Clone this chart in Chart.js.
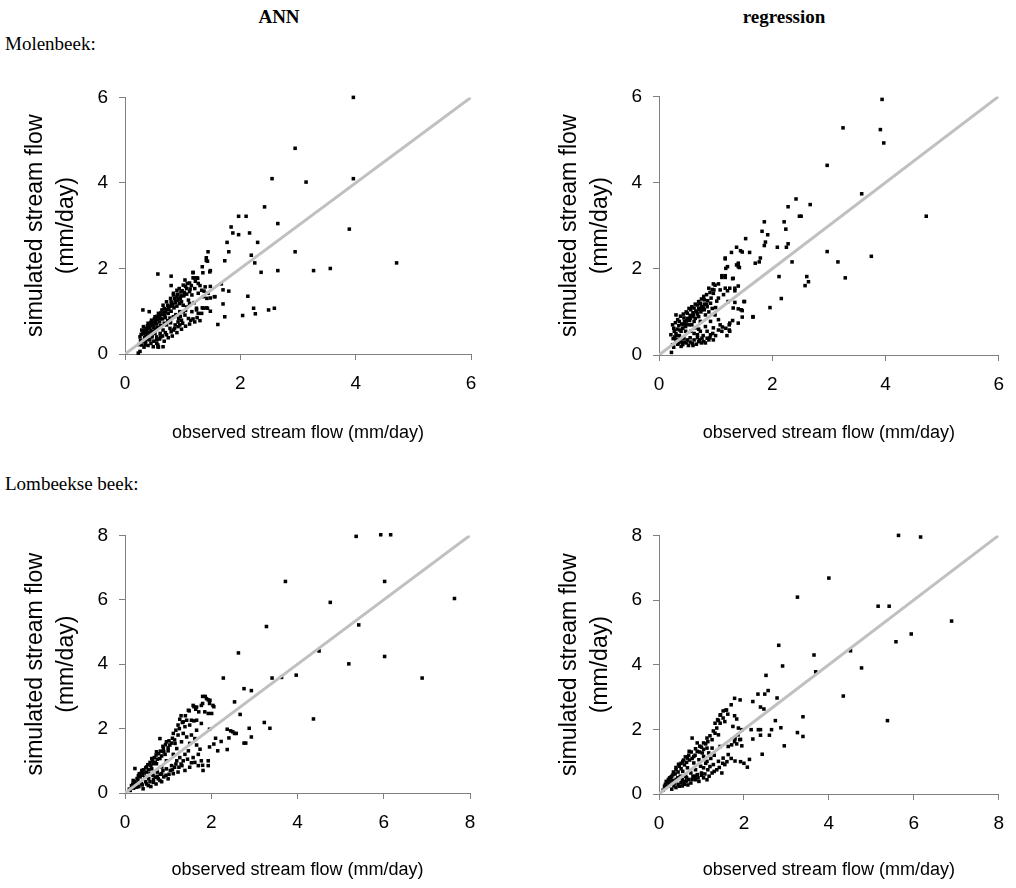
<!DOCTYPE html>
<html>
<head>
<meta charset="utf-8">
<script src="https://cdn.jsdelivr.net/npm/chart.js@4/dist/chart.umd.min.js"></script>
<style>
  body { margin: 0; background: #fff; width: 1016px; height: 888px; position: relative; overflow: hidden; }
  canvas { position: absolute; }
  .lbl { position: absolute; font-family: "Liberation Serif", "Times New Roman", serif; font-size: 19px; color: #000; white-space: nowrap; line-height: 22px; }
</style>
</head>
<body>
<div class="lbl" style="left:229px;top:6px;width:100px;text-align:center;font-weight:bold">ANN</div>
<div class="lbl" style="left:734px;top:6px;width:100px;text-align:center;font-weight:bold">regression</div>
<div class="lbl" style="left:5px;top:33px">Molenbeek:</div>
<div class="lbl" style="left:5px;top:473px">Lombeekse beek:</div>

<canvas id="molAnn" width="500" height="380" style="left:0;top:75px"></canvas>
<canvas id="molReg" width="482" height="380" style="left:534px;top:74px"></canvas>
<canvas id="lomAnn" width="500" height="375" style="left:0;top:513px"></canvas>
<canvas id="lomReg" width="482" height="375" style="left:534px;top:513px"></canvas>

<script>
// axis ticks
var molenbeekTicks = [0, 2, 4, 6];
var lombeekTicks = [0, 2, 4, 6, 8];

// [observed, simulated] in mm/day
var molenbeekANN = [
  [3.96,6.0],[2.95,4.81],[2.55,4.10],[3.14,4.02],[3.96,4.10],[2.42,3.44],[1.97,3.22],[2.10,3.22],[1.84,2.97],[1.87,2.83],
  [1.97,2.79],[2.16,2.83],[1.77,2.61],[2.30,2.61],[2.65,3.05],[3.89,2.92],[2.95,2.39],[1.80,2.39],[2.19,2.31],[2.25,2.13],
  [1.44,2.39],[1.41,2.25],[1.41,2.19],[1.73,2.18],[2.36,1.91],[2.65,1.95],[3.27,1.95],[3.56,2.00],[4.71,2.13],[2.13,1.35],
  [2.23,1.07],[2.26,0.94],[2.49,1.03],[2.59,1.07],[2.04,0.90],[1.73,0.87],[1.61,0.69],[1.70,1.17],[1.80,1.47],[1.70,1.50],
  [1.67,1.64],[1.55,1.34],[1.48,1.00],[1.41,1.08],[1.34,1.08],[1.48,1.31],[1.48,1.58],[1.37,1.47],[1.34,2.04],[1.48,1.95],
  [1.18,1.91],[1.25,1.78],[1.18,1.78],[0.57,1.87],[0.80,1.82],[0.80,1.60],[0.31,1.03],[0.42,0.99],[0.66,0.17],[0.57,0.17],
  [0.57,0.21],[0.84,1.42],[0.94,1.53],[0.97,1.45],[1.04,1.73],[1.08,1.65],[1.18,1.90],[1.26,1.77],[1.27,1.65],[1.35,1.90],
  [1.43,2.17],[1.47,1.92],[1.39,1.57],[1.44,1.42],[1.36,1.34],[1.42,1.30],[1.56,1.34],[1.43,1.07],[1.36,1.07],[1.24,1.07],
  [1.24,1.03],[1.16,0.99],[1.10,0.83],[1.14,0.79],[1.01,0.99],[0.98,0.79],[0.95,0.68],[0.87,0.68],[0.79,0.73],[0.72,0.68],
  [0.84,0.56],[0.66,0.56],[0.61,0.48],[0.55,0.40],[0.55,0.25],[0.58,0.16],[0.49,0.17],[0.36,0.29],[0.33,0.16],[0.26,0.06],
  [0.23,0.02],[0.29,0.21],[0.43,0.33],[0.46,0.44],[0.38,0.56],[0.29,0.56],[0.26,0.40],[0.32,0.64],[0.40,0.72],[0.46,0.79],
  [0.52,0.87],[0.58,0.95],[0.64,1.03],[0.66,1.14],[0.72,1.22],[0.79,1.30],[0.81,1.18],[0.75,1.10],[0.61,0.83],[0.69,0.91],
  [0.49,0.68],[0.43,0.60],[0.90,1.34],[0.92,1.26],[0.98,1.22],[1.01,1.14],[1.07,1.10],[1.10,1.26],[1.16,1.38],[1.21,1.53],
  [1.07,1.53],[1.01,1.61],[0.90,1.49],[0.84,1.38],[0.95,0.99],[1.04,0.91],[0.93,0.83],[0.84,0.87],[1.27,0.95],[1.33,0.95],
  [1.27,1.42],[1.33,1.49],[1.21,0.75],[0.35,0.45],[0.40,0.50],[0.45,0.55],[0.50,0.62],[0.55,0.70],[0.60,0.75],[0.65,0.82],
  [0.70,0.85],[0.75,0.95],[0.80,1.00],[0.85,1.08],[0.90,1.12],[0.95,1.18],[0.30,0.30],[0.34,0.38],[0.38,0.42],[0.42,0.48],
  [0.48,0.52],[0.52,0.58],[0.56,0.62],[0.62,0.66],[0.68,0.72],[0.74,0.78],[0.78,0.84],[0.88,0.92],[0.24,0.22],[0.27,0.32],
  [0.31,0.48],[0.36,0.52],[0.44,0.66],[0.50,0.74],[0.56,0.80],[0.60,0.90],[0.70,0.98],[0.76,1.04],[0.82,1.12],[0.88,1.20],
  [0.96,1.30],[1.02,1.36],[1.12,1.46],[1.15,1.60],[1.22,1.70],[1.30,1.60],[1.12,1.18],[1.20,1.20],[1.05,1.02],[0.96,0.88],
  [0.62,0.40],[0.70,0.50],[0.78,0.60],[0.92,0.75],[1.00,0.72],[0.68,0.30],[0.50,0.30],[0.45,0.25],[0.40,0.20],
  [0.33,0.50],[0.37,0.60],[0.41,0.64],[0.47,0.70],[0.53,0.76],[0.57,0.85],[0.63,0.92],[0.67,0.98],[0.73,1.04],[0.77,1.12],
  [0.83,1.16],[0.87,1.24],[0.93,1.30],[0.97,1.36],[1.03,1.44],[1.07,1.40],[1.13,1.52],[0.28,0.46],[0.34,0.56],[0.39,0.66],
  [0.45,0.74],[0.51,0.82],[0.55,0.88],[0.62,0.96],[0.68,1.06],[0.74,1.14],[0.80,1.22],[0.86,1.30],[0.91,1.40],[0.99,1.48],
  [1.05,1.58],[1.12,1.66],[1.20,1.78],[0.60,0.35],[0.65,0.42],[0.72,0.45],[0.80,0.52],[0.86,0.60],[0.92,0.64],[0.98,0.58],
  [1.05,0.65],[1.12,0.70],[1.18,0.82],[1.25,0.85],[1.30,0.78],[0.75,0.38],[0.82,0.42],[0.90,0.50],[0.55,0.33],[0.47,0.40],
  [0.52,0.48],[0.40,0.35],[0.35,0.22]
];

var molenbeekReg = [
  [3.94,5.93],[3.25,5.27],[3.91,5.23],[3.97,4.92],[2.97,4.40],[3.58,3.74],[4.72,3.22],[2.42,3.62],[2.67,3.49],[2.28,3.44],
  [2.48,3.22],[2.51,3.22],[2.21,3.09],[2.24,2.92],[1.86,3.09],[1.82,2.87],[1.92,2.79],[1.88,2.62],[2.28,2.58],[2.25,2.50],
  [2.09,2.50],[1.86,2.54],[1.53,2.70],[1.37,2.50],[1.44,2.42],[1.28,2.38],[1.60,2.38],[1.47,2.39],[1.17,2.25],[1.79,2.25],
  [1.77,2.16],[1.70,2.13],[1.40,2.13],[1.40,2.05],[1.21,2.05],[2.35,2.16],[2.97,2.40],[3.16,2.16],[3.75,2.29],[3.29,1.79],
  [2.61,1.82],[2.64,1.70],[2.58,1.61],[2.12,1.82],[2.16,1.31],[1.96,1.10],[1.66,0.88],[1.50,1.24],[1.47,1.03],[1.47,0.88],
  [1.40,1.07],[1.30,0.80],[1.24,0.58],[1.24,0.70],[1.11,1.80],[1.17,1.80],[1.30,1.77],[1.40,1.60],[1.34,1.49],[1.21,1.49],
  [1.05,1.65],[0.96,1.65],[0.30,0.93],[0.24,0.70],[0.21,0.47],[0.24,0.24],[0.22,0.06],[0.33,0.35],[0.39,0.55],[0.36,0.78],
  [0.44,0.86],[0.50,0.97],[0.56,1.05],[0.62,1.09],[0.68,1.16],[0.73,1.20],[0.79,1.36],[0.76,1.05],[0.85,1.12],[0.91,1.20],
  [0.96,1.43],[0.99,1.62],[0.97,1.51],[1.05,1.32],[1.08,1.51],[1.14,1.40],[1.17,1.55],[1.25,1.55],[1.34,1.55],[1.31,1.78],
  [1.11,1.84],[1.17,1.84],[1.18,2.01],[1.17,2.23],[1.37,2.09],[1.42,2.03],[1.22,1.24],[1.31,1.09],[1.34,1.22],[1.45,1.05],
  [1.66,0.89],[1.51,1.24],[1.40,0.74],[1.25,0.74],[1.25,0.55],[1.11,0.55],[1.08,0.70],[1.05,0.82],[0.99,0.93],[0.91,0.78],
  [0.96,0.63],[0.91,0.47],[0.85,0.39],[0.79,0.31],[0.76,0.39],[0.70,0.31],[0.62,0.35],[0.59,0.27],[0.50,0.35],[0.44,0.39],
  [0.42,0.24],[0.47,0.55],[0.56,0.55],[0.65,0.63],[0.68,0.47],[0.73,0.55],[0.82,0.66],[0.85,0.55],[0.96,0.35],[0.62,0.78],
  [0.53,0.70],[0.47,0.66],[0.59,0.89],[0.70,0.89],[0.73,0.78],[0.82,0.93],[0.27,0.55],[0.30,0.35],[0.39,0.20],[0.88,1.55],
  [0.28,0.42],[0.32,0.60],[0.35,0.68],[0.40,0.72],[0.45,0.78],[0.50,0.85],[0.55,0.92],[0.60,0.98],[0.65,1.02],[0.70,1.08],
  [0.75,1.12],[0.80,1.18],[0.86,1.26],[0.92,1.32],[0.30,0.50],[0.36,0.45],[0.42,0.62],[0.48,0.72],[0.54,0.80],[0.58,0.70],
  [0.64,0.85],[0.68,0.95],[0.74,1.00],[0.80,1.05],[0.88,1.00],[0.94,1.08],[1.00,1.10],[1.02,1.25],[0.40,0.30],[0.48,0.28],
  [0.55,0.40],[0.62,0.50],[0.70,0.60],[0.78,0.45],[0.88,0.35],[0.75,0.28],[0.66,0.25],[0.52,0.22],[0.34,0.28],[0.26,0.18],
  [0.26,0.62],[0.29,0.75],[0.33,0.82],[0.38,0.90],[0.43,0.95],[0.48,1.00],[0.53,1.08],[0.58,1.12],[0.64,1.18],[0.70,1.24],
  [0.75,1.30],[0.80,1.28],[0.84,1.40],[0.90,1.45],[0.94,1.52],[0.25,0.38],[0.31,0.45],[0.37,0.58],[0.43,0.70],[0.49,0.80],
  [0.55,0.85],[0.61,0.93],[0.67,1.00],[0.72,1.06],[0.78,1.10],[0.84,1.18],[0.55,0.30],[0.60,0.22],[0.68,0.40],[0.72,0.35],
  [0.82,0.28],[0.90,0.40],[0.95,0.50],[1.00,0.45],[1.05,0.58],[1.12,0.65],[1.18,0.62],[1.20,0.45],[0.45,0.30],[0.38,0.38],
  [0.33,0.25]
];

var lombeekANN = [
  [5.36,7.97],[5.93,8.02],[6.16,8.02],[3.72,6.57],[6.02,6.57],[7.64,6.04],[4.76,5.92],[3.28,5.17],[5.42,5.22],[2.63,4.35],
  [4.50,4.41],[6.02,4.24],[5.19,4.01],[3.97,3.66],[3.63,3.59],[3.41,3.57],[2.28,3.57],[6.89,3.57],[2.76,3.24],[2.93,3.18],
  [2.54,2.83],[2.67,2.44],[4.37,2.30],[3.23,2.19],[3.36,2.01],[2.88,2.01],[2.93,1.74],[2.76,1.55],[2.80,1.55],[2.37,1.35],
  [2.15,1.31],[1.93,1.00],[1.80,0.86],[2.06,1.52],[2.10,1.70],[2.37,1.98],[2.45,1.93],[2.50,1.90],[2.54,1.85],[2.41,1.71],
  [2.58,1.85],[2.23,1.60],[1.96,1.98],[1.80,3.00],[1.86,3.00],[1.93,2.89],[1.96,2.78],[2.06,2.68],[1.80,2.78],[1.85,2.52],
  [1.93,2.47],[1.71,2.52],[1.60,2.68],[1.64,2.60],[1.49,2.55],[1.27,2.29],[1.33,2.19],[1.60,2.24],[1.77,2.16],[1.96,1.43],
  [1.89,2.93],[1.97,2.88],[2.04,2.72],[2.01,2.47],[1.77,2.72],[1.66,2.67],[1.58,2.72],[1.47,2.57],[1.35,2.21],[1.43,2.26],
  [1.54,2.26],[1.66,2.26],[1.50,2.11],[1.39,2.06],[1.23,2.11],[1.12,1.85],[1.23,1.80],[1.35,1.85],[1.43,1.74],[1.54,1.80],
  [1.31,1.59],[1.16,1.54],[1.04,1.49],[0.96,1.59],[0.81,1.69],[0.89,1.38],[0.73,1.28],[0.62,1.07],[0.66,0.91],[0.50,0.81],
  [0.23,0.76],[0.39,0.70],[0.31,0.54],[0.19,0.39],[0.15,0.23],[0.27,0.18],[0.42,0.13],[0.54,0.23],[0.66,0.33],[0.77,0.44],
  [0.85,0.60],[0.96,0.75],[1.08,0.85],[1.20,1.00],[1.27,1.10],[1.39,1.20],[1.47,1.31],[1.58,1.10],[1.54,0.94],[1.70,1.20],
  [1.77,1.00],[1.81,0.70],[1.93,0.85],[1.39,0.70],[1.23,0.65],[1.12,0.60],[1.00,0.44],[0.81,0.39],[0.70,0.49],[0.58,0.60],
  [0.46,0.49],[0.50,0.65],[0.62,0.75],[0.73,0.91],[0.81,1.07],[0.93,1.20],[1.00,1.31],[1.12,1.20],[1.20,1.38],[0.96,1.00],
  [0.85,0.81],[0.35,0.33],[0.12,0.08],[1.66,1.49],[1.74,1.36],[1.50,1.54],[1.66,1.95],[1.62,1.69],[0.20,0.15],[0.25,0.30],
  [0.30,0.40],[0.35,0.50],[0.40,0.55],[0.45,0.62],[0.55,0.72],[0.60,0.85],[0.70,0.95],[0.75,1.05],[0.85,1.15],[0.90,1.28],
  [1.00,1.40],[1.08,1.55],[1.15,1.65],[0.28,0.25],[0.38,0.30],[0.48,0.35],[0.55,0.45],[0.65,0.55],[0.75,0.65],[0.88,0.70],
  [0.95,0.55],[1.05,0.70],[1.15,0.80],[1.30,0.90],[1.35,1.00],[0.60,0.20],[0.72,0.28],[0.85,0.35],[0.18,0.28],[0.32,0.20],
  [0.10,0.12],[0.22,0.35],[0.28,0.45],[0.33,0.60],[0.38,0.62],[0.43,0.72],[0.48,0.78],[0.53,0.88],[0.58,0.95],[0.64,1.00],
  [0.68,1.10],[0.72,1.18],[0.78,1.22],[0.82,1.30],[0.88,1.45],[0.94,1.50],[1.02,1.62],[1.10,1.70],[1.18,1.95],[1.26,2.00],
  [1.30,2.40],[1.40,2.40],[0.40,0.25],[0.50,0.28],[0.58,0.35],[0.66,0.42],[0.75,0.52],[0.82,0.58],[0.90,0.50],[1.02,0.58],
  [1.10,0.72],[1.18,0.90],[1.25,0.80],[1.32,0.85],[1.45,1.05],[1.50,0.80],[1.62,0.95],[1.70,0.85]
];

var lombeekReg = [
  [5.64,8.00],[6.16,7.95],[4.00,6.68],[3.26,6.09],[5.16,5.81],[5.42,5.81],[6.89,5.35],[5.94,4.95],[5.58,4.71],[2.82,4.60],
  [3.65,4.30],[4.51,4.43],[2.91,3.96],[4.77,3.90],[3.69,3.78],[2.52,3.67],[4.34,3.03],[5.38,2.27],[2.57,3.20],[2.49,3.09],
  [2.78,2.97],[2.33,3.09],[2.21,2.86],[2.39,2.69],[2.47,2.63],[2.74,2.27],[2.87,2.05],[3.39,2.39],[3.26,1.90],[3.39,1.78],
  [2.95,1.49],[2.65,1.99],[2.60,1.82],[2.34,1.99],[2.39,1.82],[2.21,1.70],[2.39,1.99],[2.43,1.23],[2.13,1.07],[2.08,0.83],
  [2.00,0.95],[1.92,1.00],[1.79,1.02],[2.17,1.99],[1.95,1.49],[1.83,1.55],[1.92,1.69],[1.79,1.71],[1.95,1.99],[1.87,2.04],
  [1.78,2.96],[1.91,2.91],[1.70,2.76],[1.57,2.59],[1.62,2.47],[1.78,2.42],[1.83,2.32],[1.44,2.44],[1.40,2.27],[0.78,1.73],
  [0.90,1.58],[1.05,1.58],[1.13,1.73],[1.25,1.68],[1.32,1.88],[1.36,2.04],[1.32,2.19],[1.44,2.19],[1.51,2.35],[1.51,2.57],
  [1.59,2.60],[1.55,2.24],[1.40,1.83],[1.25,1.42],[1.13,1.42],[1.02,1.27],[0.90,1.32],[0.82,1.16],[0.71,1.32],[0.67,1.11],
  [0.56,1.01],[0.48,0.86],[0.40,0.75],[0.33,0.60],[0.25,0.50],[0.17,0.39],[0.13,0.24],[0.21,0.24],[0.36,0.34],[0.48,0.24],
  [0.59,0.39],[0.75,0.34],[0.86,0.44],[0.94,0.39],[1.05,0.50],[1.13,0.44],[1.25,0.65],[1.36,0.75],[1.48,0.65],[1.28,0.91],
  [1.40,1.01],[1.51,1.11],[1.63,1.22],[1.55,0.91],[1.13,1.01],[0.98,0.86],[0.86,0.75],[0.75,0.65],[0.63,0.55],[0.82,0.96],
  [0.94,1.06],[1.05,1.16],[1.17,1.27],[0.67,0.81],[0.56,0.70],[0.44,0.50],[1.05,0.81],[1.74,2.09],[1.86,1.83],[1.90,1.68],
  [1.71,1.52],[1.78,1.62],[1.63,1.47],[1.44,1.47],[0.10,0.12],[0.20,0.35],[0.28,0.40],[0.30,0.55],[0.38,0.62],[0.45,0.68],
  [0.52,0.78],[0.60,0.90],[0.65,0.98],[0.72,1.05],[0.78,1.10],[0.85,1.20],[0.95,1.30],[1.00,1.45],[1.10,1.55],[0.25,0.30],
  [0.32,0.42],[0.40,0.45],[0.50,0.55],[0.55,0.45],[0.65,0.50],[0.70,0.45],[0.80,0.55],[0.90,0.60],[1.00,0.65],[1.15,0.75],
  [1.20,0.85],[0.40,0.20],[0.55,0.25],[0.68,0.28],[0.30,0.15],[1.10,0.95],[1.22,1.10],[1.30,1.20],
  [0.15,0.30],[0.22,0.45],[0.28,0.52],[0.34,0.68],[0.40,0.82],[0.46,0.92],[0.52,0.95],[0.58,1.05],[0.62,1.15],[0.70,1.20],
  [0.76,1.30],[0.86,1.40],[0.96,1.48],[1.05,1.38],[1.15,1.62],[1.20,1.80],[1.28,1.95],[1.38,2.30],[1.45,2.45],[0.35,0.25],
  [0.45,0.30],[0.52,0.35],[0.60,0.30],[0.65,0.40],[0.78,0.45],[0.85,0.55],[0.92,0.50],[1.00,0.58],[1.08,0.62],[1.18,0.55],
  [1.30,0.70],[1.42,0.82],[1.50,0.95],[1.60,1.00],[1.70,1.10]
];

var xTitle = 'observed stream flow (mm/day)';
var yTitle = ['simulated stream flow', '(mm/day)'];
var sansFont = '"Liberation Sans", Arial, sans-serif';

function makeAxis(ticks, isY, fitSize) {
  return {
    type: 'linear',
    min: ticks[0],
    max: ticks[ticks.length - 1],
    ticks: {
      stepSize: ticks[1] - ticks[0],
      color: '#000',
      font: { family: sansFont, size: 19 },
      padding: isY ? 11 : 12
    },
    grid: { drawOnChartArea: false, drawTicks: true, tickLength: 6, color: '#808080' },
    border: { color: '#808080', width: 1 },
    title: isY
      ? { display: true, text: yTitle, color: '#000', font: { family: sansFont, size: 23, lineHeight: 1.35 }, padding: { top: 20, bottom: 0 } }
      : { display: true, text: xTitle, color: '#000', font: { family: sansFont, size: 18, lineHeight: 1.2 }, padding: { top: 0, bottom: 0 } },
    afterFit: function (scale) {
      if (isY) scale.width = fitSize; else scale.height = fitSize;
    }
  };
}

function makeChart(id, points, ticks, pad, xHeight) {
  var ctx = document.getElementById(id).getContext('2d');
  var top = ticks[ticks.length - 1];
  return new Chart(ctx, {
    type: 'scatter',
    data: {
      datasets: [
        {
          // 1:1 line
          data: [{ x: ticks[0], y: ticks[0] }, { x: top, y: top }],
          showLine: true,
          borderColor: '#c0c0c0',
          borderWidth: 3,
          pointRadius: 0,
          order: 0
        },
        {
          data: points.map(function (p) { return { x: p[0], y: p[1] }; }),
          pointStyle: 'rect',
          pointRadius: 2.5,
          backgroundColor: '#000',
          borderWidth: 0,
          clip: false,
          order: 1
        }
      ]
    },
    options: {
      responsive: false,
      animation: false,
      layout: { padding: pad },
      plugins: { legend: { display: false }, tooltip: { enabled: false } },
      scales: {
        x: makeAxis(ticks, false, xHeight),
        y: makeAxis(ticks, true, 125)
      }
    }
  });
}

makeChart('molAnn', molenbeekANN, molenbeekTicks, { left: 0, right: 29, top: 0, bottom: 11 }, 90);
makeChart('molReg', molenbeekReg, molenbeekTicks, { left: 0, right: 10, top: 0, bottom: 10 }, 89);
makeChart('lomAnn', lombeekANN, lombeekTicks, { left: 0, right: 30, top: 0, bottom: 7 }, 88);
makeChart('lomReg', lombeekReg, lombeekTicks, { left: 0, right: 10, top: 0, bottom: 7 }, 87);
</script>
</body>
</html>
